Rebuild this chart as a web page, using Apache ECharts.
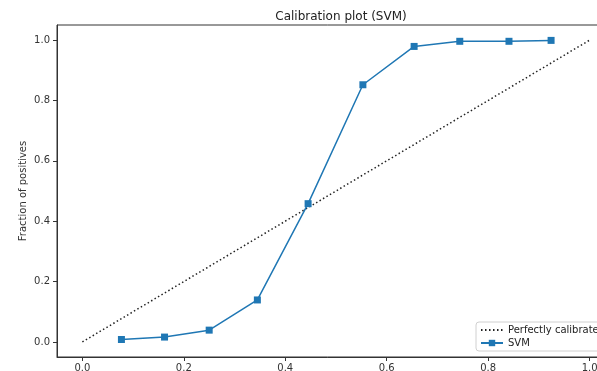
<!DOCTYPE html>
<html>
<head>
<meta charset="utf-8">
<script src="https://cdn.jsdelivr.net/npm/echarts@6/dist/echarts.min.js"></script>
<style>html,body{margin:0;padding:0;background:#fff}#c{width:597px;height:371px}</style>
</head>
<body>
<div id="c"></div>
<script>
const meanPredicted = [0.077, 0.162, 0.250, 0.345, 0.445, 0.553, 0.654, 0.744, 0.841, 0.924];
const fractionPositives = [0.008, 0.016, 0.039, 0.139, 0.458, 0.852, 0.979, 0.996, 0.996, 0.999];
const perfectX = [0, 1];
const perfectY = [0, 1];
const tickValues = [0, 0.2, 0.4, 0.6, 0.8, 1.0];
const titleText = "Calibration plot (SVM)";
const yName = "Fraction of positives";
const seriesNames = ["Perfectly calibrated", "SVM"];

const chart = echarts.init(document.getElementById('c'), null, {renderer: 'canvas'});
const font = 'DejaVu Sans';
chart.setOption({
  animation: false,
  backgroundColor: '#fff',
  title: {
    text: titleText, left: 336, top: 6, textAlign: 'center',
    textStyle: {fontFamily: font, fontSize: 12, fontWeight: 'normal', color: '#222'}
  },
  grid: {left: 57, top: 25, width: 558, height: 332, outerBoundsMode: 'none', containLabel: false,
         show: true, borderColor: '#333', borderWidth: 1, backgroundColor: 'transparent'},
  xAxis: {
    type: 'value', min: -0.05, max: 1.05,
    splitLine: {show: false},
    axisLine: {show: true, onZero: false, lineStyle: {color: '#333'}},
    axisTick: {show: true, length: 4, customValues: tickValues, lineStyle: {color: '#333'}},
    axisLabel: {customValues: tickValues, formatter: v => v.toFixed(1), fontFamily: font, fontSize: 10, color: '#333', margin: 6}
  },
  yAxis: {
    type: 'value', min: -0.05, max: 1.05,
    name: yName, nameLocation: 'middle', nameGap: 29, nameMoveOverlap: false,
    nameTextStyle: {fontFamily: font, fontSize: 10, color: '#333'},
    splitLine: {show: false},
    axisLine: {show: true, onZero: false, lineStyle: {color: '#333'}},
    axisTick: {show: true, length: 4, customValues: tickValues, lineStyle: {color: '#333'}},
    axisLabel: {customValues: tickValues, formatter: v => v.toFixed(1), fontFamily: font, fontSize: 10, color: '#333', margin: 7}
  },
  legend: {
    orient: 'vertical', left: 476, top: 322,
    padding: [3, 6, 3, 4], itemGap: 3, itemWidth: 22, itemHeight: 8,
    backgroundColor: '#fff', borderColor: '#d0d0d0', borderWidth: 1, borderRadius: 3,
    textStyle: {fontFamily: font, fontSize: 10, color: '#222'},
    data: [{name: seriesNames[0], itemStyle: {opacity: 0}}, {name: seriesNames[1]}]
  },
  series: [
    {
      name: seriesNames[0], type: 'line',
      data: perfectX.map((x, i) => [x, perfectY[i]]),
      symbol: 'none', lineStyle: {color: '#222', width: 1.5, type: [1.5, 2.5]},
      itemStyle: {color: '#222'}
    },
    {
      name: seriesNames[1], type: 'line',
      data: meanPredicted.map((x, i) => [x, fractionPositives[i]]),
      symbol: 'rect', symbolSize: 7,
      lineStyle: {color: '#1f77b4', width: 1.5},
      itemStyle: {color: '#1f77b4'}
    }
  ]
});
</script>
</body>
</html>
